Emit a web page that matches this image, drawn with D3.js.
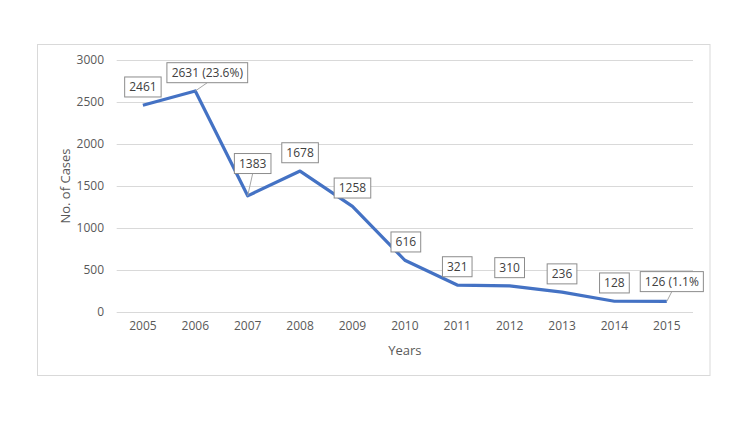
<!DOCTYPE html>
<html><head><meta charset="utf-8">
<script src="https://cdn.jsdelivr.net/npm/d3@7"></script>
<style>
html,body{margin:0;padding:0;background:#fff;}
svg text{font-family:"Open Sans",sans-serif;}
</style></head>
<body>
<svg id="chart" width="750" height="431"></svg>
<script>
const years = ["2005","2006","2007","2008","2009","2010","2011","2012","2013","2014","2015"];
const cases = [2461,2631,1383,1678,1258,616,321,310,236,128,126];
const labels = ["2461","2631 (23.6%)","1383","1678","1258","616","321","310","236","128","126 (1.1%"];
const yTicks = [0,500,1000,1500,2000,2500,3000];
// manual label adjustments (dx, extra lift) for moved labels
const labelDx = [0,12,5,0,0,1,0,0,0,0,5];
const labelLift = [0,0,14,0,0,0,0,0,0,0,1.5];
const leader = [false,true,true,false,false,false,false,false,false,false,true];

(function(){
const svg = d3.select("#chart");
svg.append("rect").attr("x",37.5).attr("y",44.5).attr("width",672.5).attr("height",331)
  .attr("fill","#fff").attr("stroke","#d9d9d9").attr("stroke-width",1);

const pLeft=116.7, pRight=693, pTop=60, pBottom=312;
const x = d3.scaleBand().domain(years).range([pLeft,pRight]).padding(0);
const y = d3.scaleLinear().domain([0,3000]).range([pBottom,pTop]);

// gridlines
svg.append("g").selectAll("line").data(yTicks).join("line")
  .attr("x1",pLeft).attr("x2",pRight)
  .attr("y1",d=>Math.round(y(d))+0.5).attr("y2",d=>Math.round(y(d))+0.5)
  .attr("stroke","#d9d9d9").attr("stroke-width",1);

// y axis labels
const yAxis = d3.axisLeft(y).tickValues(yTicks).tickFormat(d3.format("d")).tickSize(0).tickPadding(0);
const gy = svg.append("g").attr("transform",`translate(${104},0)`).call(yAxis);
gy.select(".domain").remove();
gy.selectAll("text").attr("fill","#595959").style("font-size","12px").style("font-family","'Open Sans',sans-serif");

// x axis labels
const xAxis = d3.axisBottom(x).tickSize(0).tickPadding(0);
const gx = svg.append("g").attr("transform",`translate(0,${321})`).call(xAxis);
gx.select(".domain").remove();
gx.selectAll("text").attr("fill","#595959").style("font-size","12px").style("font-family","'Open Sans',sans-serif");

// axis titles
svg.append("text").attr("x",(pLeft+pRight)/2).attr("y",355).attr("text-anchor","middle")
  .attr("fill","#595959").style("font-size","13px").text("Years");
svg.append("text").attr("transform",`translate(70,186) rotate(-90)`).attr("text-anchor","middle")
  .attr("fill","#595959").style("font-size","13px").text("No. of Cases");

// line
const cx = d => x(d) + x.bandwidth()/2;
const line = d3.line().x((d,i)=>cx(years[i])).y(d=>y(d));
svg.append("path").datum(cases).attr("d",line).attr("fill","none")
  .attr("stroke","#4472C4").attr("stroke-width",3.2).attr("stroke-linejoin","round");

// data labels
const lg = svg.append("g");
cases.forEach((v,i)=>{
  const px = cx(years[i]), py = y(v);
  const g = lg.append("g");
  const t = g.append("text").attr("text-anchor","middle").attr("fill","#404040")
    .style("font-size","12px").text(labels[i]);
  const bb = t.node().getBBox();
  const w = bb.width + 9, h = 20;
  const bx = px + labelDx[i];
  const bBottom = py - 8.3 - labelLift[i];
  if (leader[i]) {
    lg.insert("line", ":first-child").attr("x1",bx).attr("y1",bBottom).attr("x2",px).attr("y2",py)
      .attr("stroke","#a6a6a6").attr("stroke-width",1);
  }
  g.insert("rect","text").attr("x",bx-w/2).attr("y",bBottom-h).attr("width",w).attr("height",h)
    .attr("fill","#fff").attr("stroke","#8c8c8c").attr("stroke-width",1);
  t.attr("x",bx).attr("y",bBottom-h/2+4.3);
});
})();
</script>
</body></html>
